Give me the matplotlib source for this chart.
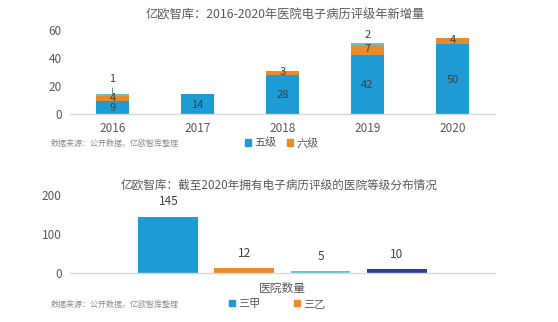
import matplotlib
matplotlib.use('Agg')
from matplotlib import pyplot as plt
from matplotlib.patches import Patch

plt.rcParams['font.family'] = ['Noto Sans CJK SC', 'DejaVu Sans']

# 年新增量（按评级堆叠）
years = ['2016', '2017', '2018', '2019', '2020']
level5 = [9, 14, 28, 42, 50]
level6 = [4, 0, 3, 7, 4]
level7 = [1, 0, 0, 2, 0]

# 截至2020年的医院等级分布
grades = ['三甲', '三乙', '二甲', '其他']
hospitals = [145, 12, 5, 10]

blue = '#1f9bd3'
orange = '#e98a2c'
teal = '#5cc3cf'
navy = '#2f3f99'
grey_txt = '#595959'
dark_txt = '#404040'
axis_col = '#d9d9d9'
source = '数据来源：公开数据，亿欧智库整理'

fig = plt.figure(figsize=(5.58, 3.22), dpi=100)
fig.patch.set_facecolor('white')


def style_axis(ax):
    for s in ['top', 'right', 'left']:
        ax.spines[s].set_visible(False)
    ax.spines['bottom'].set_color(axis_col)
    ax.spines['bottom'].set_linewidth(1)
    ax.tick_params(axis='y', length=0, labelsize=8.5, labelcolor=grey_txt, pad=6)
    ax.tick_params(axis='x', length=0, labelsize=8.5, labelcolor=grey_txt, pad=6)


# ---- 上图：堆叠柱 ----
ax1 = fig.add_axes([0.1254, 0.646, 0.7616, 0.261])
x = list(range(len(years)))
w = 0.39
ax1.bar(x, level5, w, color=blue)
ax1.bar(x, level6, w, bottom=level5, color=orange)
base7 = [a + b for a, b in zip(level5, level6)]
ax1.bar(x, level7, w, bottom=base7, color=teal)
ax1.set_xlim(-0.5, len(years) - 0.5)
ax1.set_ylim(0, 60)
ax1.set_yticks([0, 20, 40, 60])
ax1.set_xticks(x)
ax1.set_xticklabels(years)
style_axis(ax1)

for i in x:
    ax1.text(i, level5[i] / 2 - 0.5, str(level5[i]), ha='center', va='center',
             fontsize=8, color=dark_txt)
    if level6[i]:
        ax1.text(i, level5[i] + level6[i] / 2 + 0.6, str(level6[i]), ha='center',
                 va='center', fontsize=8, color=dark_txt)
    if level7[i]:
        top = base7[i] + level7[i]
        if i == 0:
            # 数值太小，标签放在柱顶上方并用引线连接
            ax1.annotate(str(level7[i]), xy=(i, top - 0.3), xytext=(i, top + 11),
                         ha='center', va='center', fontsize=8, color=dark_txt,
                         arrowprops=dict(arrowstyle='-', color='#7f7f7f', lw=0.7,
                                         shrinkA=1, shrinkB=0))
        else:
            ax1.text(i, top + 2, str(level7[i]), ha='center', va='bottom',
                     fontsize=8, color=dark_txt)

fig.text(0.511, 0.953, '亿欧智库：2016-2020年医院电子病历评级年新增量',
         ha='center', va='center', fontsize=8.8, color=grey_txt)
fig.text(0.09, 0.556, source, ha='left', va='center', fontsize=5.8, color='#8c8c8c')
fig.legend(handles=[Patch(color=blue, label='五级'), Patch(color=orange, label='六级')],
           loc='center', bbox_to_anchor=(0.505, 0.556), ncol=2, frameon=False,
           fontsize=8, handlelength=0.55, handleheight=0.55, handletextpad=0.3,
           columnspacing=1.0, labelcolor=grey_txt)

# ---- 下图：分组柱 ----
ax2 = fig.add_axes([0.1254, 0.152, 0.7616, 0.242])
pitch = 0.179
bw = 0.141
cols = [blue, orange, teal, navy]
for j, v in enumerate(hospitals):
    xp = (j - 1.5) * pitch
    ax2.bar(xp, v, bw, color=cols[j])
    ax2.annotate(str(v), xy=(xp, v), xytext=(0, 6), textcoords='offset points',
                 ha='center', va='bottom', fontsize=8.5, color=dark_txt)
ax2.set_xlim(-0.5, 0.5)
ax2.set_ylim(0, 200)
ax2.set_yticks([0, 100, 200])
ax2.set_xticks([0])
ax2.set_xticklabels(['医院数量'])
style_axis(ax2)

fig.text(0.5, 0.425, '亿欧智库：截至2020年拥有电子病历评级的医院等级分布情况',
         ha='center', va='center', fontsize=8.4, color=grey_txt)
fig.text(0.09, 0.056, source, ha='left', va='center', fontsize=5.8, color='#8c8c8c')
fig.legend(handles=[Patch(color=blue, label=grades[0]), Patch(color=orange, label=grades[1])],
           loc='center', bbox_to_anchor=(0.497, 0.056), ncol=2, frameon=False,
           fontsize=8, handlelength=0.55, handleheight=0.55, handletextpad=0.3,
           columnspacing=3.0, labelcolor=grey_txt)

fig.savefig('out.png', dpi=100, facecolor='white')
